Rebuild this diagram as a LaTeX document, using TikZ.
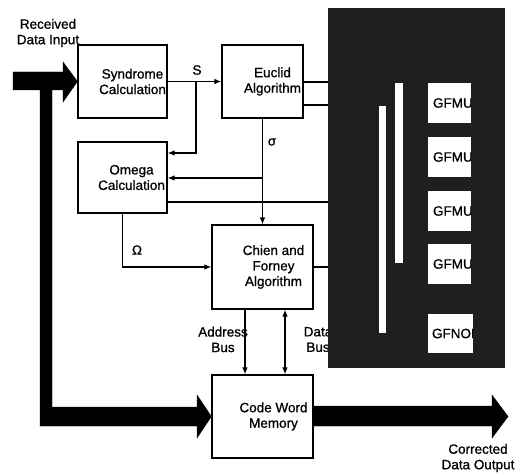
\documentclass[tikz,border=0pt]{standalone}
\usepackage{fontspec}
\setmainfont{Liberation Sans}[BoldFont=Liberation Sans,BoldFeatures={FakeBold=0.9}]
\usetikzlibrary{arrows.meta}
\begin{document}
\begin{tikzpicture}[x=1pt,y=-1pt,
  txt/.style={font=\fontsize{13.5}{15.5}\selectfont\bfseries,inner sep=0pt,align=center},
  blk/.style={draw,line width=1.2pt,inner sep=0pt,minimum width=#1},
  arr/.style={line width=1.1pt,-{Latex[length=7pt,width=5.5pt]}},
  dbl/.style={line width=1.1pt,{Latex[length=7pt,width=5.5pt]}-{Latex[length=7pt,width=5.5pt]}},
  ln/.style={line width=1.1pt},
  gfbox/.style={fill=white,inner sep=0pt,minimum width=43pt,minimum height=40pt},
  big/.style={fill=black}]
\useasboundingbox (0,0) rectangle (524,473);
% blocks
\node[blk=89pt,minimum height=73pt,label={[name=synt,txt,xshift=10pt]center:Syndrome\\Calculation}] (syn) at (122.5,81.5) {};
\node[blk=81pt,minimum height=73pt,label={[name=euct,txt,xshift=10pt]center:Euclid\\Algorithm}] (euc) at (262.5,81.5) {};
\node[blk=89pt,minimum height=71pt,label={[name=omet,txt,xshift=9pt]center:Omega\\Calculation}] (ome) at (122.5,177.5) {};
\node[blk=101pt,minimum height=84pt,label={[name=chient,txt,xshift=11pt]center:Chien and\\Forney\\Algorithm}] (chien) at (262.5,267) {};
\node[blk=101pt,minimum height=83pt,label={[name=cwmt,txt,xshift=11pt]center:Code Word\\Memory}] (cwm) at (262.5,416.5) {};
% texts
\node[txt] (recv) at (48,33) {Received\\Data Input};
\node[txt] (corr) at (478,458) {Corrected\\Data Output};
\node[txt] (slab) at (197,70) {S};
\node[txt] (siglab) at (272,142) {σ};
\node[txt] (omlab) at (137,250) {Ω};
\node[txt] (addr) at (223,339.5) {Address\\Bus};
\node[txt] (data) at (318,339.5) {Data\\Bus};
% connectors
\coordinate (sb) at (196,82);
\coordinate (sig) at (262.5,178);
\draw[arr] (syn) -- (euc);
\draw[arr] (sb) |- ([yshift=24.5pt]ome.east);
\draw[arr] (euc) -- (chien);
\draw[arr] (sig) -- (sig -| ome.east);
\draw[arr] (ome.south) |- (chien.west);
\draw[arr] ([xshift=-17.5pt]chien.south) -- ([xshift=-17.5pt]cwm.north);
\draw[dbl] ([xshift=22.5pt]chien.south) -- ([xshift=22.5pt]cwm.north);
% thick data paths
\draw[big] (13,72) -- (63,72) -- (63,62) -- (syn.west) -- (63,102) -- (63,90) -- (52,90) -- (52,407) -- (197,407) -- (197,395) -- (cwm.west) -- (197,438) -- (197,426) -- (40,426) -- (40,90) -- (13,90) -- cycle;
\draw[big] (313,406) -- (492,406) -- (492,395) -- (508,416.5) -- (492,438) -- (492,426) -- (313,426) -- cycle;
% dark area
\node[fill=black!88,inner sep=0pt,minimum width=177pt,minimum height=360pt] (dark) at (416.5,188) {};
\draw[ln] ([yshift=-0.5pt]euc.east) -- ([yshift=-0.5pt]euc.east -| dark.west);
\draw[ln] ([yshift=-23.5pt]euc.east) -- ([yshift=-23.5pt]euc.east -| dark.west);
\draw[ln] ([yshift=-24.5pt]ome.east) -- ([yshift=-24.5pt]ome.east -| dark.west);
\draw[ln] (chien.east) -- (chien.east -| dark.west);
\fill[white] (395,83) rectangle (403,263);
\fill[white] (379,106) rectangle (386,333);
\foreach \n/\y in {1/103,2/157,3/211,4/264}{
  \node[gfbox] (gf\n) at (449.5,\y) {};
  \begin{scope}
    \clip (gf\n.south west) rectangle (gf\n.north east);
    \node[txt,anchor=west] (gf\n t) at ([xshift=5pt]gf\n.west) {GFMU};
  \end{scope}
}
\node[gfbox,minimum width=45pt,minimum height=39pt] (gfn) at (450.5,333.5) {};
\begin{scope}
  \clip (gfn.south west) rectangle (gfn.north east);
  \node[txt,anchor=west] (gfnt) at ([xshift=4pt]gfn.west) {GFNOR};
\end{scope}
\end{tikzpicture}
\end{document}
